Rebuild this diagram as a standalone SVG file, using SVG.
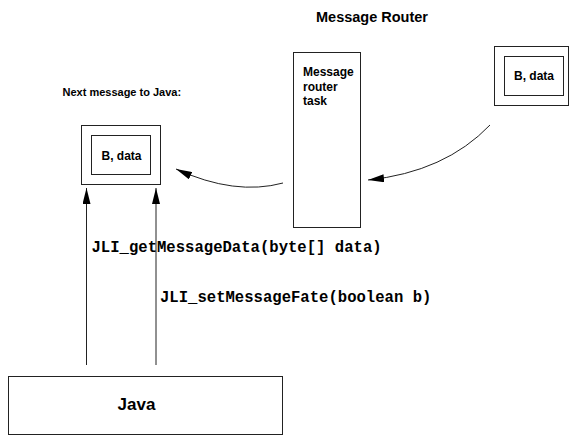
<svg xmlns="http://www.w3.org/2000/svg" width="570" height="436" viewBox="0 0 570 436">
  <style>
    .box { fill: #fff; stroke: #222; stroke-width: 1; }
    .wire { fill: none; stroke: #222; stroke-width: 1; }
    .lbl { font-family: "Liberation Sans", Arial, sans-serif; font-weight: bold; fill: #000; }
    .code { font-family: "Liberation Mono", "Courier New", monospace; font-weight: bold; fill: #000; font-size: 15.6px; }
  </style>
  <defs>
    <marker id="head" markerUnits="userSpaceOnUse" viewBox="0 0 16 8" refX="16" refY="4" markerWidth="16" markerHeight="8" orient="auto">
      <path d="M0,0 L16,4 L0,8 Z" fill="#000"/>
    </marker>
  </defs>
  <rect width="570" height="436" fill="#fff"/>

  <text class="lbl" x="428" y="22" font-size="14.5" text-anchor="end">Message Router</text>
  <text class="lbl" x="62.5" y="96" font-size="11">Next message to Java:</text>

  <g id="router-task">
    <rect class="box" x="293.5" y="52.5" width="67" height="175"/>
    <text class="lbl" x="303" y="76" font-size="12">Message</text>
    <text class="lbl" x="303" y="90.5" font-size="12">router</text>
    <text class="lbl" x="303" y="105" font-size="12">task</text>
  </g>

  <g id="incoming-message">
    <rect class="box" x="494.5" y="46.5" width="74" height="59"/>
    <rect class="box" x="504.5" y="56.5" width="59" height="39"/>
    <text class="lbl" x="534" y="80" font-size="12" text-anchor="middle">B, data</text>
  </g>

  <g id="next-message">
    <rect class="box" x="81.5" y="125.5" width="79" height="59"/>
    <rect class="box" x="91.5" y="135.5" width="59" height="39"/>
    <text class="lbl" x="121.5" y="160" font-size="12" text-anchor="middle">B, data</text>
  </g>

  <g id="java">
    <rect class="box" x="8.5" y="376.5" width="274" height="58"/>
    <text class="lbl" x="136.5" y="409.5" font-size="17" text-anchor="middle">Java</text>
  </g>

  <g id="connectors">
    <path class="wire" d="M490,125 Q445,172 368,180" marker-end="url(#head)"/>
    <path class="wire" d="M283,183 Q235,196 176,169" marker-end="url(#head)"/>
    <line class="wire" x1="86.5" y1="365" x2="86.5" y2="188" marker-end="url(#head)"/>
    <line class="wire" x1="156" y1="365" x2="156" y2="188" marker-end="url(#head)"/>
    <text class="code" x="91.5" y="252">JLI_getMessageData(byte[] data)</text>
    <text class="code" x="160" y="302">JLI_setMessageFate(boolean b)</text>
  </g>
</svg>
